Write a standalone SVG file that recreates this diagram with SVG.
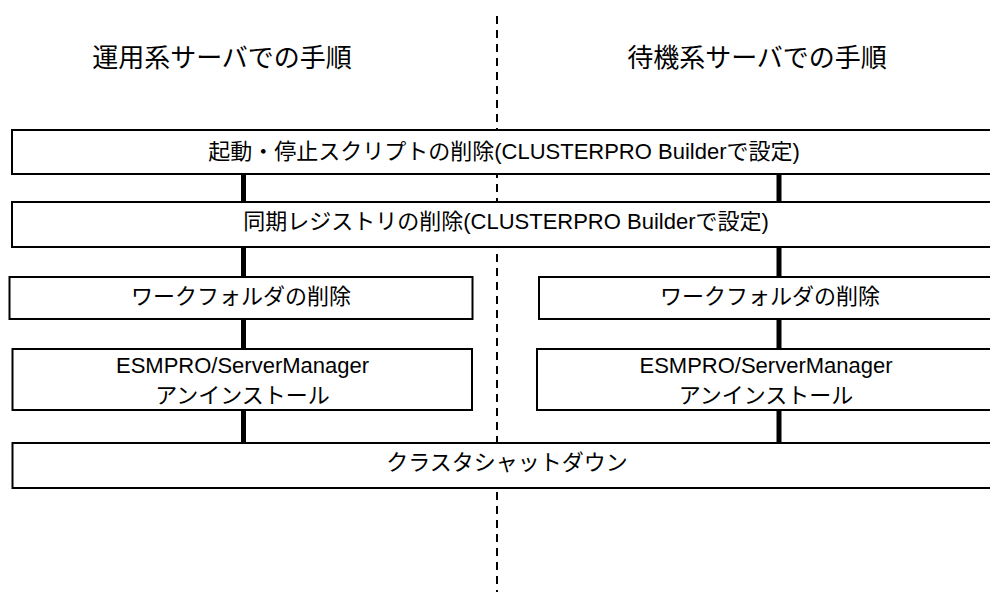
<svg xmlns="http://www.w3.org/2000/svg" width="990" height="592" viewBox="0 0 990 592">
<style>
.box{fill:#fff;stroke:#000;stroke-width:2}
.t{font-family:"Liberation Sans","Noto Sans CJK JP",sans-serif;font-size:22px;fill:#000;text-anchor:middle}
.h{font-family:"Liberation Sans","Noto Sans CJK JP",sans-serif;font-size:26px;fill:#000;text-anchor:middle}
.c{stroke:#000;stroke-width:5;fill:none}
.d{stroke:#000;stroke-width:2;stroke-dasharray:8 6;fill:none}
</style>
<rect width="990" height="592" fill="#fff"/>
<line id="divider" class="d" x1="497" y1="16" x2="497" y2="592"/>
<text id="head-left" class="h" x="222" y="67">運用系サーバでの手順</text>
<text id="head-right" class="h" x="757" y="67">待機系サーバでの手順</text>
<g id="connectors">
<line class="c" x1="243.5" y1="174" x2="243.5" y2="202"/>
<line class="c" x1="779" y1="174" x2="779" y2="202"/>
<line class="c" x1="243.5" y1="247" x2="243.5" y2="277"/>
<line class="c" x1="779" y1="247" x2="779" y2="277"/>
<line class="c" x1="243.5" y1="319" x2="243.5" y2="349"/>
<line class="c" x1="779" y1="319" x2="779" y2="349"/>
<line class="c" x1="243.5" y1="410" x2="243.5" y2="443"/>
<line class="c" x1="779" y1="410" x2="779" y2="443"/>
</g>
<g id="n1"><rect class="box" x="12" y="130" width="990" height="44"/><text class="t" x="504" y="159">起動・停止スクリプトの削除(CLUSTERPRO Builderで設定)</text></g>
<g id="n2"><rect class="box" x="12" y="202" width="990" height="45"/><text class="t" x="506" y="229">同期レジストリの削除(CLUSTERPRO Builderで設定)</text></g>
<g id="n3l"><rect class="box" x="9.5" y="277" width="463" height="42"/><text class="t" x="241" y="304">ワークフォルダの削除</text></g>
<g id="n3r"><rect class="box" x="539" y="277" width="460" height="42"/><text class="t" x="770" y="304">ワークフォルダの削除</text></g>
<g id="n4l"><rect class="box" x="12.5" y="349" width="459.5" height="61"/><text class="t" x="242.5" y="372.5">ESMPRO/ServerManager</text><text class="t" x="242.5" y="403">アンインストール</text></g>
<g id="n4r"><rect class="box" x="537" y="349" width="460" height="61"/><text class="t" x="766" y="372.5">ESMPRO/ServerManager</text><text class="t" x="766" y="403">アンインストール</text></g>
<g id="n5"><rect class="box" x="12.5" y="443" width="990" height="45"/><text class="t" x="507" y="470">クラスタシャットダウン</text></g>
</svg>
